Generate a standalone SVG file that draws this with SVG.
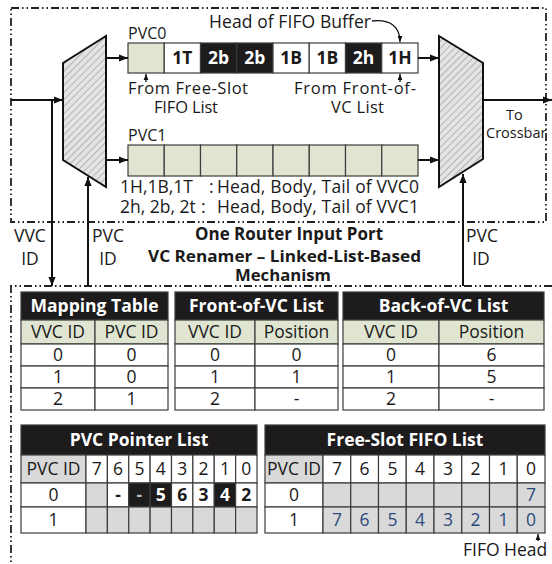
<svg xmlns="http://www.w3.org/2000/svg" width="552" height="564" viewBox="0 0 552 564">
<style>
.t{font-family:"Open Sans","DejaVu Sans",sans-serif;font-size:17.5px;fill:#1a1a1a}
.s{font-size:14.5px}
.m{font-size:16px}
.n{font-size:16.5px}
.b{font-weight:bold}
.w{fill:#fff}
.c{text-anchor:middle}
.bl{fill:#2c4a7c}
.cell{stroke:#3c3c3c;stroke-width:1.2}
.blk{fill:#1d1b1c}
.grn{fill:#dfe5d1}
.gry{fill:#d9d9d9}
.wht{fill:#fff}
.border{fill:none;stroke:#222;stroke-width:1.8;stroke-dasharray:8 3 1.5 3 1.5 3}
.arr{stroke:#111;stroke-width:2;fill:none}
.thin{stroke:#111;stroke-width:1.3;fill:none}
.trap{fill:url(#hatch);stroke:#111;stroke-width:2}
</style>
<defs>
<pattern id="hatch" patternUnits="userSpaceOnUse" width="5" height="5" patternTransform="rotate(45)">
<rect width="5" height="5" fill="#e4e4e4"/>
<line x1="0" y1="0" x2="0" y2="5" stroke="#8c8c8c" stroke-width="1.1"/>
</pattern>
<marker id="ah" viewBox="0 0 10 10" refX="10" refY="5" markerWidth="9" markerHeight="9" markerUnits="userSpaceOnUse" orient="auto">
<path d="M0,1 L10,5 L0,9 z" fill="#111"/>
</marker>
<marker id="ahs" viewBox="0 0 10 10" refX="10" refY="5" markerWidth="6" markerHeight="6" markerUnits="userSpaceOnUse" orient="auto">
<path d="M0,1 L10,5 L0,9 z" fill="#111"/>
</marker>
</defs>

<g id="borders">
<rect class="border" x="11" y="8" width="535" height="214"/>
<path class="border" d="M552,286 H11 V564"/>
</g>

<g id="demux-left"><polygon class="trap" points="63,63 106,36 106,187 63,160"/></g>
<g id="mux-right"><polygon class="trap" points="439,36 483,63 483,159 439,187"/></g>

<g id="pvc0-buffer">
<text class="t m" x="128" y="39">PVC0</text>
<rect class="cell grn" x="128" y="43" width="36.25" height="30"/>
<rect class="cell wht" x="164.25" y="43" width="36.25" height="30"/>
<rect class="cell blk" x="200.5" y="43" width="36.25" height="30"/>
<rect class="cell blk" x="236.75" y="43" width="36.25" height="30"/>
<rect class="cell wht" x="273" y="43" width="36.25" height="30"/>
<rect class="cell wht" x="309.25" y="43" width="36.25" height="30"/>
<rect class="cell blk" x="345.5" y="43" width="36.25" height="30"/>
<rect class="cell wht" x="381.75" y="43" width="36.25" height="30"/>
<text class="t b c" x="182.4" y="64">1T</text>
<text class="t b c w" x="218.6" y="64">2b</text>
<text class="t b c w" x="254.9" y="64">2b</text>
<text class="t b c" x="291.1" y="64">1B</text>
<text class="t b c" x="327.4" y="64">1B</text>
<text class="t b c w" x="363.6" y="64">2h</text>
<text class="t b c" x="399.9" y="64">1H</text>
</g>

<g id="pvc1-buffer">
<text class="t m" x="128" y="141">PVC1</text>
<rect class="cell grn" x="128" y="145" width="36.25" height="31"/>
<rect class="cell grn" x="164.25" y="145" width="36.25" height="31"/>
<rect class="cell grn" x="200.5" y="145" width="36.25" height="31"/>
<rect class="cell grn" x="236.75" y="145" width="36.25" height="31"/>
<rect class="cell grn" x="273" y="145" width="36.25" height="31"/>
<rect class="cell grn" x="309.25" y="145" width="36.25" height="31"/>
<rect class="cell grn" x="345.5" y="145" width="36.25" height="31"/>
<rect class="cell grn" x="381.75" y="145" width="36.25" height="31"/>
</g>

<g id="labels-top">
<text class="t" x="209" y="28" textLength="162" lengthAdjust="spacing">Head of FIFO Buffer</text>
<text class="t n" x="128" y="94" textLength="120" lengthAdjust="spacing">From Free-Slot</text>
<text class="t n" x="154" y="113" textLength="64" lengthAdjust="spacing">FIFO List</text>
<text class="t n" x="294" y="94" textLength="122" lengthAdjust="spacing">From Front-of-</text>
<text class="t n" x="331" y="113" textLength="53" lengthAdjust="spacing">VC List</text>
<text class="t s" x="506" y="120">To</text>
<text class="t s" x="486" y="138">Crossbar</text>
<text class="t" x="120" y="193">1H,1B,1T</text>
<text class="t" x="209" y="193">:</text>
<text class="t" x="217" y="193" textLength="202" lengthAdjust="spacing">Head, Body, Tail of VVC0</text>
<text class="t" x="120" y="213">2h, 2b, 2t</text>
<text class="t" x="201" y="213">:</text>
<text class="t" x="217" y="213" textLength="202" lengthAdjust="spacing">Head, Body, Tail of VVC1</text>
<text class="t" x="14" y="242">VVC</text>
<text class="t c" x="30" y="265">ID</text>
<text class="t" x="92" y="242">PVC</text>
<text class="t c" x="108" y="265">ID</text>
<text class="t" x="466" y="242">PVC</text>
<text class="t c" x="481" y="265">ID</text>
<text class="t b" x="195" y="240" textLength="188" lengthAdjust="spacingAndGlyphs">One Router Input Port</text>
<text class="t b n" x="148" y="262" textLength="273" lengthAdjust="spacingAndGlyphs">VC Renamer – Linked-List-Based</text>
<text class="t b n" x="235" y="281" textLength="96" lengthAdjust="spacingAndGlyphs">Mechanism</text>
</g>

<g id="connectors">
<path class="arr" d="M11,100 H63" marker-end="url(#ah)"/>
<path class="arr" d="M52,100 V286" marker-end="url(#ah)"/>
<path class="arr" d="M88,286 V177" marker-end="url(#ah)"/>
<path class="arr" d="M463,286 V174" marker-end="url(#ah)"/>
<path class="arr" d="M483,100 H552" marker-end="url(#ah)"/>
<path class="arr" d="M106,58 H128" marker-end="url(#ah)"/>
<path class="arr" d="M106,160 H128" marker-end="url(#ah)"/>
<path class="arr" d="M418,58 H439" marker-end="url(#ah)"/>
<path class="arr" d="M418,160 H439" marker-end="url(#ah)"/>
<path class="thin" d="M146,82 V74" marker-end="url(#ahs)"/>
<path class="thin" d="M400,82 V74" marker-end="url(#ahs)"/>
<path class="thin" d="M372,21 C392,19 400,28 400,42" marker-end="url(#ahs)"/>
<path class="thin" d="M538,541 V534" marker-end="url(#ahs)"/>
</g>

<g id="mapping-table">
<rect class="cell blk" x="21" y="292" width="147" height="28"/>
<text class="t b c w" x="94.5" y="312">Mapping Table</text>
<rect class="cell grn" x="21" y="320" width="74" height="24"/>
<rect class="cell grn" x="95" y="320" width="73" height="24"/>
<text class="t c" x="58" y="338">VVC ID</text>
<text class="t c" x="131.5" y="338">PVC ID</text>
<rect class="cell wht" x="21" y="344" width="74" height="22"/>
<rect class="cell wht" x="95" y="344" width="73" height="22"/>
<rect class="cell wht" x="21" y="366" width="74" height="22"/>
<rect class="cell wht" x="95" y="366" width="73" height="22"/>
<rect class="cell wht" x="21" y="388" width="74" height="22"/>
<rect class="cell wht" x="95" y="388" width="73" height="22"/>
<text class="t c" x="58" y="361">0</text><text class="t c" x="131.5" y="361">0</text>
<text class="t c" x="58" y="383">1</text><text class="t c" x="131.5" y="383">0</text>
<text class="t c" x="58" y="405">2</text><text class="t c" x="131.5" y="405">1</text>
</g>

<g id="front-of-vc-list">
<rect class="cell blk" x="175" y="292" width="163" height="28"/>
<text class="t b c w" x="256.5" y="312">Front-of-VC List</text>
<rect class="cell grn" x="175" y="320" width="80" height="24"/>
<rect class="cell grn" x="255" y="320" width="83" height="24"/>
<text class="t c" x="215" y="338">VVC ID</text>
<text class="t c" x="296.5" y="338">Position</text>
<rect class="cell wht" x="175" y="344" width="80" height="22"/>
<rect class="cell wht" x="255" y="344" width="83" height="22"/>
<rect class="cell wht" x="175" y="366" width="80" height="22"/>
<rect class="cell wht" x="255" y="366" width="83" height="22"/>
<rect class="cell wht" x="175" y="388" width="80" height="22"/>
<rect class="cell wht" x="255" y="388" width="83" height="22"/>
<text class="t c" x="215" y="361">0</text><text class="t c" x="296.5" y="361">0</text>
<text class="t c" x="215" y="383">1</text><text class="t c" x="296.5" y="383">1</text>
<text class="t c" x="215" y="405">2</text><text class="t c" x="296.5" y="405">-</text>
</g>

<g id="back-of-vc-list">
<rect class="cell blk" x="343" y="292" width="201" height="28"/>
<text class="t b c w" x="443.5" y="312">Back-of-VC List</text>
<rect class="cell grn" x="343" y="320" width="96" height="24"/>
<rect class="cell grn" x="439" y="320" width="105" height="24"/>
<text class="t c" x="391" y="338">VVC ID</text>
<text class="t c" x="491.5" y="338">Position</text>
<rect class="cell wht" x="343" y="344" width="96" height="22"/>
<rect class="cell wht" x="439" y="344" width="105" height="22"/>
<rect class="cell wht" x="343" y="366" width="96" height="22"/>
<rect class="cell wht" x="439" y="366" width="105" height="22"/>
<rect class="cell wht" x="343" y="388" width="96" height="22"/>
<rect class="cell wht" x="439" y="388" width="105" height="22"/>
<text class="t c" x="391" y="361">0</text><text class="t c" x="491.5" y="361">6</text>
<text class="t c" x="391" y="383">1</text><text class="t c" x="491.5" y="383">5</text>
<text class="t c" x="391" y="405">2</text><text class="t c" x="491.5" y="405">-</text>
</g>

<g id="pvc-pointer-list">
<rect class="cell blk" x="21" y="425" width="236" height="30"/>
<text class="t b c w" x="139" y="446">PVC Pointer List</text>
<rect class="cell gry" x="21" y="455" width="65" height="28"/>
<text class="t c" x="53.5" y="475">PVC ID</text>
<rect class="cell wht" x="86" y="455" width="21.375" height="28"/>
<rect class="cell wht" x="107.375" y="455" width="21.375" height="28"/>
<rect class="cell wht" x="128.75" y="455" width="21.375" height="28"/>
<rect class="cell wht" x="150.125" y="455" width="21.375" height="28"/>
<rect class="cell wht" x="171.5" y="455" width="21.375" height="28"/>
<rect class="cell wht" x="192.875" y="455" width="21.375" height="28"/>
<rect class="cell wht" x="214.25" y="455" width="21.375" height="28"/>
<rect class="cell wht" x="235.625" y="455" width="21.375" height="28"/>
<text class="t c" x="96.7" y="475">7</text>
<text class="t c" x="118.1" y="475">6</text>
<text class="t c" x="139.4" y="475">5</text>
<text class="t c" x="160.8" y="475">4</text>
<text class="t c" x="182.2" y="475">3</text>
<text class="t c" x="203.6" y="475">2</text>
<text class="t c" x="224.9" y="475">1</text>
<text class="t c" x="246.3" y="475">0</text>
<rect class="cell wht" x="21" y="483" width="65" height="24"/>
<text class="t c" x="53.5" y="501">0</text>
<rect class="cell gry" x="86" y="483" width="21.375" height="24"/>
<rect class="cell wht" x="107.375" y="483" width="21.375" height="24"/>
<rect class="cell blk" x="128.75" y="483" width="21.375" height="24"/>
<rect class="cell blk" x="150.125" y="483" width="21.375" height="24"/>
<rect class="cell wht" x="171.5" y="483" width="21.375" height="24"/>
<rect class="cell wht" x="192.875" y="483" width="21.375" height="24"/>
<rect class="cell blk" x="214.25" y="483" width="21.375" height="24"/>
<rect class="cell wht" x="235.625" y="483" width="21.375" height="24"/>
<text class="t b c" x="118.1" y="501">-</text>
<text class="t b c" x="139.4" y="501" style="fill:#bbb">-</text>
<text class="t b c w" x="160.8" y="501">5</text>
<text class="t b c" x="182.2" y="501">6</text>
<text class="t b c" x="203.6" y="501">3</text>
<text class="t b c w" x="224.9" y="501">4</text>
<text class="t b c" x="246.3" y="501">2</text>
<rect class="cell wht" x="21" y="507" width="65" height="26"/>
<text class="t c" x="53.5" y="526">1</text>
<rect class="cell gry" x="86" y="507" width="21.375" height="26"/>
<rect class="cell gry" x="107.375" y="507" width="21.375" height="26"/>
<rect class="cell gry" x="128.75" y="507" width="21.375" height="26"/>
<rect class="cell gry" x="150.125" y="507" width="21.375" height="26"/>
<rect class="cell gry" x="171.5" y="507" width="21.375" height="26"/>
<rect class="cell gry" x="192.875" y="507" width="21.375" height="26"/>
<rect class="cell gry" x="214.25" y="507" width="21.375" height="26"/>
<rect class="cell gry" x="235.625" y="507" width="21.375" height="26"/>
</g>

<g id="free-slot-fifo-list">
<rect class="cell blk" x="265" y="425" width="280" height="30"/>
<text class="t b c w" x="405" y="446">Free-Slot FIFO List</text>
<rect class="cell gry" x="265" y="455" width="58" height="28"/>
<text class="t c" x="294" y="475">PVC ID</text>
<rect class="cell wht" x="323" y="455" width="27.75" height="28"/>
<rect class="cell wht" x="350.75" y="455" width="27.75" height="28"/>
<rect class="cell wht" x="378.5" y="455" width="27.75" height="28"/>
<rect class="cell wht" x="406.25" y="455" width="27.75" height="28"/>
<rect class="cell wht" x="434" y="455" width="27.75" height="28"/>
<rect class="cell wht" x="461.75" y="455" width="27.75" height="28"/>
<rect class="cell wht" x="489.5" y="455" width="27.75" height="28"/>
<rect class="cell wht" x="517.25" y="455" width="27.75" height="28"/>
<text class="t c" x="336.9" y="475">7</text>
<text class="t c" x="364.6" y="475">6</text>
<text class="t c" x="392.4" y="475">5</text>
<text class="t c" x="420.1" y="475">4</text>
<text class="t c" x="447.9" y="475">3</text>
<text class="t c" x="475.6" y="475">2</text>
<text class="t c" x="503.4" y="475">1</text>
<text class="t c" x="531.1" y="475">0</text>
<rect class="cell wht" x="265" y="483" width="58" height="24"/>
<text class="t c" x="294" y="501">0</text>
<rect class="cell gry" x="323" y="483" width="27.75" height="24"/>
<rect class="cell gry" x="350.75" y="483" width="27.75" height="24"/>
<rect class="cell gry" x="378.5" y="483" width="27.75" height="24"/>
<rect class="cell gry" x="406.25" y="483" width="27.75" height="24"/>
<rect class="cell gry" x="434" y="483" width="27.75" height="24"/>
<rect class="cell gry" x="461.75" y="483" width="27.75" height="24"/>
<rect class="cell gry" x="489.5" y="483" width="27.75" height="24"/>
<rect class="cell gry" x="517.25" y="483" width="27.75" height="24"/>
<text class="t c bl" x="531.1" y="501">7</text>
<rect class="cell wht" x="265" y="507" width="58" height="26"/>
<text class="t c" x="294" y="526">1</text>
<rect class="cell gry" x="323" y="507" width="27.75" height="26"/>
<rect class="cell gry" x="350.75" y="507" width="27.75" height="26"/>
<rect class="cell gry" x="378.5" y="507" width="27.75" height="26"/>
<rect class="cell gry" x="406.25" y="507" width="27.75" height="26"/>
<rect class="cell gry" x="434" y="507" width="27.75" height="26"/>
<rect class="cell gry" x="461.75" y="507" width="27.75" height="26"/>
<rect class="cell gry" x="489.5" y="507" width="27.75" height="26"/>
<rect class="cell gry" x="517.25" y="507" width="27.75" height="26"/>
<text class="t c bl" x="336.9" y="526">7</text>
<text class="t c bl" x="364.6" y="526">6</text>
<text class="t c bl" x="392.4" y="526">5</text>
<text class="t c bl" x="420.1" y="526">4</text>
<text class="t c bl" x="447.9" y="526">3</text>
<text class="t c bl" x="475.6" y="526">2</text>
<text class="t c bl" x="503.4" y="526">1</text>
<text class="t c bl" x="531.1" y="526">0</text>
<text class="t" x="463" y="556">FIFO Head</text>
</g>
</svg>
